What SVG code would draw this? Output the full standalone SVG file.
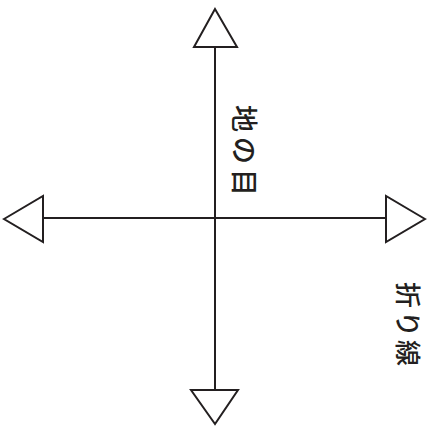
<svg xmlns="http://www.w3.org/2000/svg" width="429" height="427" viewBox="0 0 429 427">
<style>
.ln{stroke:#231f20;stroke-width:2;fill:none}
.tri{stroke:#231f20;stroke-width:2;fill:#fff;stroke-linejoin:miter}
.lbl{font-family:"Noto Sans CJK JP","Noto Sans CJK SC",sans-serif;font-size:27px;font-weight:500;fill:#231f20}
.lbl2{font-family:"Noto Sans CJK JP","Noto Sans CJK SC",sans-serif;font-size:26px;font-weight:500;fill:#231f20}
</style>
<rect width="429" height="427" fill="#fff"/>
<g id="connectors">
<line class="ln" x1="215" y1="46" x2="215" y2="390"/>
<line class="ln" x1="43" y1="218" x2="386" y2="218"/>
</g>
<g id="arrow-top"><polygon class="tri" points="215,9 194,47 237,47"/></g>
<g id="arrow-left"><polygon class="tri" points="4,219 43,196 43,242"/></g>
<g id="arrow-right"><polygon class="tri" points="425,219 386,196 386,242"/></g>
<g id="arrow-bottom"><polygon class="tri" points="215,424 191,390 238,390"/></g>
<g id="label-grain"><text class="lbl" transform="translate(234,105) rotate(90)" letter-spacing="5">地の目</text></g>
<g id="label-fold"><text class="lbl2" transform="translate(398,282) rotate(90)" letter-spacing="3">折り線</text></g>
</svg>
